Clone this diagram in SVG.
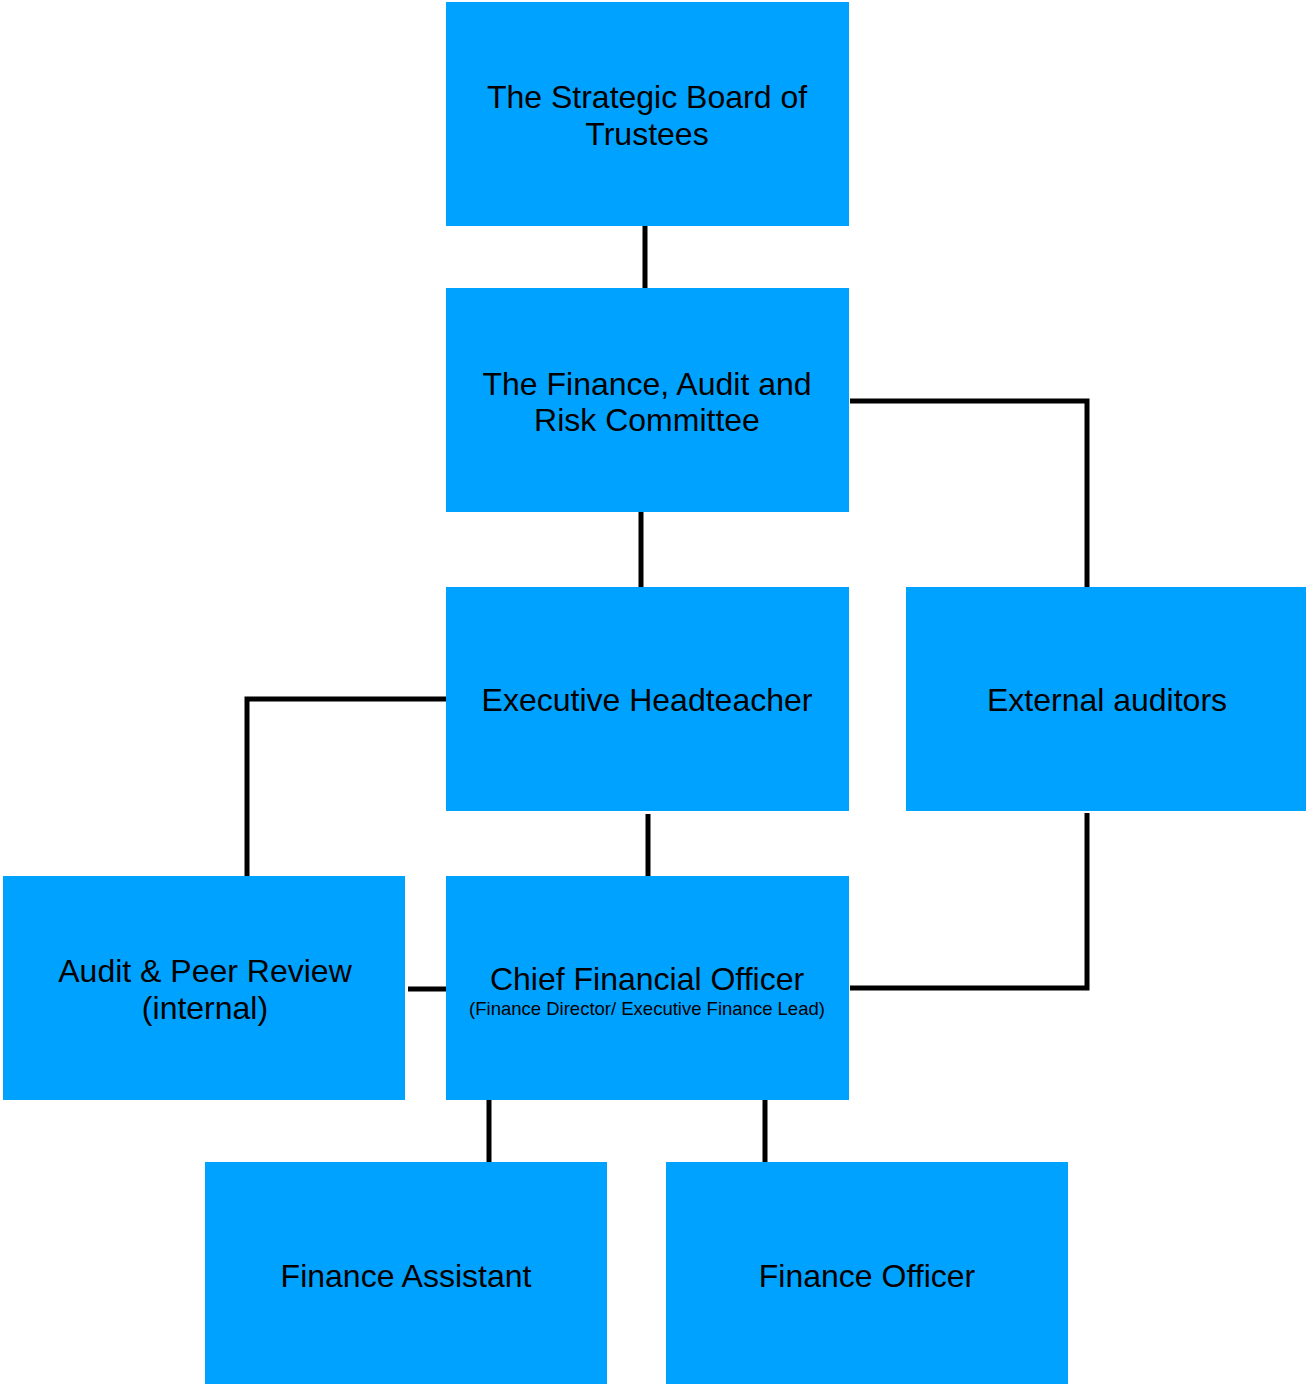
<svg xmlns="http://www.w3.org/2000/svg" width="1306" height="1385" viewBox="0 0 1306 1385">
<style>
.box{fill:#00A2FF}
.t{font-family:"Liberation Sans",Arial,sans-serif;font-size:32px;fill:#000;text-anchor:middle}
.s{font-family:"Liberation Sans",Arial,sans-serif;font-size:18.5px;fill:#000;text-anchor:middle}
.c{fill:none;stroke:#000;stroke-width:5}
</style>
<rect width="1306" height="1385" fill="#fff"/>
<g id="connectors">
<line class="c" x1="645" y1="226" x2="645" y2="288"/>
<line class="c" x1="641" y1="512" x2="641" y2="587"/>
<polyline class="c" points="850,401 1087,401 1087,587"/>
<polyline class="c" points="446,699 247,699 247,876"/>
<line class="c" x1="648" y1="814" x2="648" y2="876"/>
<line class="c" x1="408" y1="989" x2="446" y2="989"/>
<polyline class="c" points="850,988 1087,988 1087,813"/>
<line class="c" x1="489" y1="1100" x2="489" y2="1162"/>
<line class="c" x1="765" y1="1100" x2="765" y2="1162"/>
</g>
<g id="board">
<rect class="box" x="446" y="2" width="403" height="224"/>
<text class="t" x="647" y="108">The Strategic Board of</text>
<text class="t" x="647" y="145">Trustees</text>
</g>
<g id="committee">
<rect class="box" x="446" y="288" width="403" height="224"/>
<text class="t" x="647" y="395">The Finance, Audit and</text>
<text class="t" x="647" y="431">Risk Committee</text>
</g>
<g id="headteacher">
<rect class="box" x="446" y="587" width="403" height="224"/>
<text class="t" x="647" y="711">Executive Headteacher</text>
</g>
<g id="external">
<rect class="box" x="906" y="587" width="400" height="224"/>
<text class="t" x="1107" y="711">External auditors</text>
</g>
<g id="audit">
<rect class="box" x="3" y="876" width="402" height="224"/>
<text class="t" x="205" y="982">Audit &amp; Peer Review</text>
<text class="t" x="205" y="1019">(internal)</text>
</g>
<g id="cfo">
<rect class="box" x="446" y="876" width="403" height="224"/>
<text class="t" x="647" y="990">Chief Financial Officer</text>
<text class="s" x="647" y="1015">(Finance Director/ Executive Finance Lead)</text>
</g>
<g id="assistant">
<rect class="box" x="205" y="1162" width="402" height="222"/>
<text class="t" x="406" y="1287">Finance Assistant</text>
</g>
<g id="officer">
<rect class="box" x="666" y="1162" width="402" height="222"/>
<text class="t" x="867" y="1287">Finance Officer</text>
</g>
</svg>
